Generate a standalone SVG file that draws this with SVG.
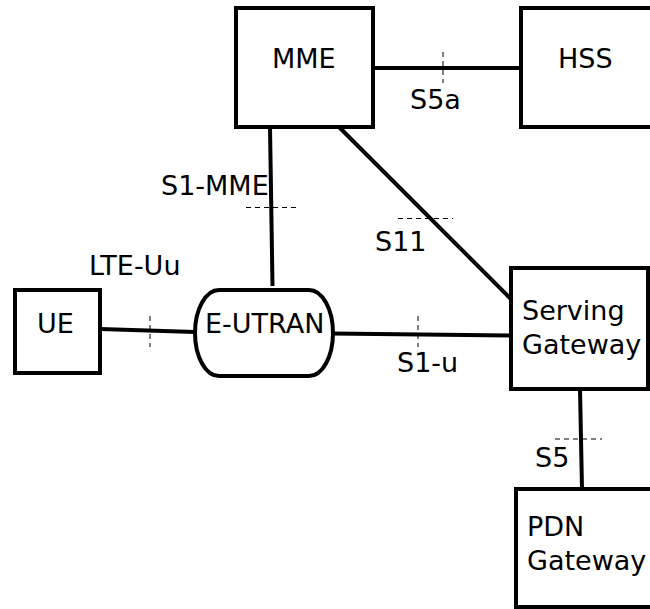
<svg xmlns="http://www.w3.org/2000/svg" width="650" height="609" viewBox="0 0 650 609">
<defs>
<style>
.box{fill:#fff;stroke:#000;stroke-width:4}
.ln{stroke:#000;stroke-width:4;fill:none}
.tick{stroke:#000;stroke-width:1;stroke-dasharray:5,4;fill:none}
text{font-family:"DejaVu Sans",sans-serif;font-size:27px;fill:#000}
</style>
</defs>
<rect width="650" height="609" fill="#fff"/>
<g id="connectors">
<line class="ln" x1="373" y1="68" x2="521" y2="68"/>
<line class="tick" x1="443" y1="52" x2="443" y2="83"/>
<line class="ln" x1="270" y1="127" x2="272.5" y2="286"/>
<line class="tick" x1="246" y1="207.5" x2="300" y2="207.5"/>
<line class="ln" x1="339" y1="127" x2="511" y2="299"/>
<line class="tick" x1="398" y1="218.5" x2="453" y2="218.5"/>
<line class="ln" x1="100" y1="329" x2="195" y2="332"/>
<line class="tick" x1="150" y1="316" x2="150" y2="347"/>
<line class="ln" x1="332" y1="333.5" x2="511" y2="335.5"/>
<line class="tick" x1="418" y1="316" x2="418" y2="347"/>
<line class="ln" x1="580" y1="389" x2="582" y2="489"/>
<line class="tick" x1="555" y1="439" x2="602" y2="439"/>
</g>
<g id="labels">
<text x="410" y="109">S5a</text>
<text x="161" y="195">S1-MME</text>
<text x="375" y="251">S11</text>
<text x="89" y="275">LTE-Uu</text>
<text x="397" y="372">S1-u</text>
<text x="535" y="467">S5</text>
</g>
<g id="MME"><rect class="box" x="236" y="8" width="137" height="119"/><text x="272" y="68">MME</text></g>
<g id="HSS"><rect class="box" x="521" y="8" width="140" height="119"/><text x="558" y="68">HSS</text></g>
<g id="UE"><rect class="box" x="15" y="290" width="85" height="83"/><text x="37" y="333">UE</text></g>
<g id="E-UTRAN"><rect class="box" x="195" y="290" width="138" height="86" rx="24" ry="43"/><text x="205" y="333">E-UTRAN</text></g>
<g id="ServingGateway"><rect class="box" x="511" y="268" width="137" height="121"/><text x="522" y="320">Serving</text><text x="522" y="354">Gateway</text></g>
<g id="PDNGateway"><rect class="box" x="516" y="489" width="137" height="118"/><text x="527" y="536">PDN</text><text x="527" y="570">Gateway</text></g>
</svg>
